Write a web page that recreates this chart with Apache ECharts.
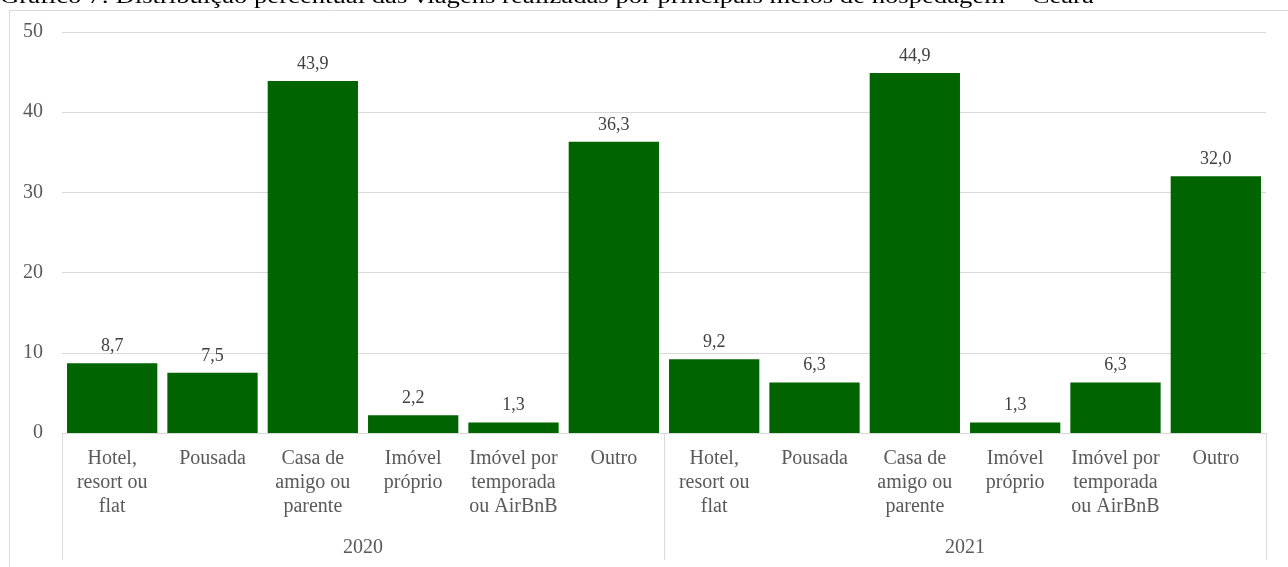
<!DOCTYPE html>
<html>
<head>
<meta charset="utf-8">
<script src="https://cdn.jsdelivr.net/npm/echarts@6/dist/echarts.min.js"></script>
<style>html,body{margin:0;padding:0;background:#fff;}#chart{width:1288px;height:567px;}</style>
</head>
<body>
<div id="chart"></div>
<script>
const titleText = 'Gráfico 7: Distribuição percentual das viagens realizadas por principais meios de hospedagem – Ceará';
const categories = ['Hotel,\nresort ou\nflat', 'Pousada', 'Casa de\namigo ou\nparente', 'Imóvel\npróprio', 'Imóvel por\ntemporada\nou AirBnB', 'Outro'];
const years = ['2020', '2021'];
const values2020 = [8.7, 7.5, 43.9, 2.2, 1.3, 36.3];
const values2021 = [9.2, 6.3, 44.9, 1.3, 6.3, 32.0];
const yTicks = [0, 10, 20, 30, 40, 50];

const allCats = [];
const allVals = [];
years.forEach((y, i) => {
  categories.forEach((c, j) => {
    allCats.push(c);
    allVals.push(i === 0 ? values2020[j] : values2021[j]);
  });
});

const FONT = '"Liberation Serif", "Times New Roman", serif';
const chart = echarts.init(document.getElementById('chart'), null, {renderer: 'canvas'});
chart.setOption({
  animation: false,
  backgroundColor: '#fff',
  graphic: [
    {type: 'rect', left: 7, top: 8, shape: {width: 1320, height: 620}, style: {fill: 'none', stroke: '#d9d9d9', lineWidth: 1}, silent: true},
    {type: 'text', x: 0, y: -13, scaleX: 1.27, style: {text: titleText, font: '21px ' + FONT, fill: '#000'}}
  ],
  grid: {left: 62, right: 22, top: 32, bottom: 134},
  xAxis: [
    {
      type: 'category', data: allCats, position: 'bottom',
      axisLine: {show: true, lineStyle: {color: '#d9d9d9'}},
      axisTick: {show: false},
      axisLabel: {interval: 0, margin: 14, color: '#595959', fontFamily: FONT, fontSize: 20, lineHeight: 24, align: 'center', verticalAlign: 'top'}
    },
    {
      type: 'category', data: years, position: 'bottom',
      axisLine: {show: false},
      axisTick: {show: true, length: 127, lineStyle: {color: '#d9d9d9'}},
      axisLabel: {margin: 105, color: '#595959', fontFamily: FONT, fontSize: 20}
    }
  ],
  yAxis: {
    type: 'value', min: 0, max: 50, interval: 10,
    axisLine: {show: false}, axisTick: {show: false},
    splitLine: {lineStyle: {color: '#d9d9d9'}},
    axisLabel: {margin: 19, color: '#595959', fontFamily: FONT, fontSize: 20,
      formatter: v => yTicks.includes(v) ? String(v) : ''}
  },
  series: [{
    type: 'bar', data: allVals, xAxisIndex: 0,
    barCategoryGap: '10%',
    itemStyle: {color: '#006400'},
    label: {show: true, position: 'top', distance: 8, color: '#404040', fontFamily: FONT, fontSize: 18,
      formatter: p => p.value.toFixed(1).replace('.', ',')}
  }]
});
</script>
</body>
</html>
